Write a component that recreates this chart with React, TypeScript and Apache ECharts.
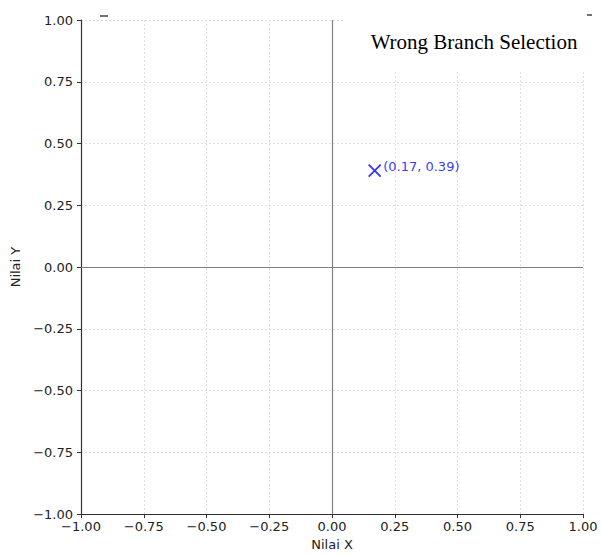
import React, { useEffect, useRef } from "react";
import * as echarts from "echarts";

const xTicks = [-1, -0.75, -0.5, -0.25, 0, 0.25, 0.5, 0.75, 1];
const yTicks = [-1, -0.75, -0.5, -0.25, 0, 0.25, 0.5, 0.75, 1];
const pointX = [0.17];
const pointY = [0.39];
const pointLabels = ["(0.17, 0.39)"];
const xAxisName = "Nilai X";
const yAxisName = "Nilai Y";
const overlayTitle = "Wrong Branch Selection";

const fmt = (v: number) => {
  const s = Math.abs(v).toFixed(2);
  return v < 0 ? "\u2212" + s : s;
};

export default function App() {
  const ref = useRef<HTMLDivElement>(null);
  useEffect(() => {
    if (!ref.current) return;
    const chart = echarts.init(ref.current, undefined, { renderer: "svg" });
    const font = "DejaVu Sans";
    chart.setOption({
      animation: false,
      backgroundColor: "#ffffff",
      grid: { left: 81, right: 19, top: 20, bottom: 32, containLabel: false },
      xAxis: {
        type: "value",
        min: xTicks[0],
        max: xTicks[xTicks.length - 1],
        interval: 0.25,
        name: xAxisName,
        nameLocation: "middle",
        nameGap: 29,
        nameTextStyle: { fontFamily: font, fontSize: 13, color: "#222", verticalAlign: "middle" },
        axisLine: { show: true, onZero: false, lineStyle: { color: "#333", width: 1.2 } },
        axisTick: { show: true, length: 4, lineStyle: { color: "#333", width: 1 } },
        axisLabel: { formatter: fmt, fontFamily: font, fontSize: 13, color: "#222", margin: 6 },
        splitLine: { show: true, lineStyle: { color: "#d8d8d8", type: [2, 2], width: 0.8 } },
      },
      yAxis: {
        type: "value",
        min: yTicks[0],
        max: yTicks[yTicks.length - 1],
        interval: 0.25,
        name: yAxisName,
        nameLocation: "middle",
        nameGap: 56,
        nameRotate: 90,
        nameTextStyle: { fontFamily: font, fontSize: 13, color: "#222" },
        axisLine: { show: true, onZero: false, lineStyle: { color: "#333", width: 1.2 } },
        axisTick: { show: true, length: 4, lineStyle: { color: "#333", width: 1 } },
        axisLabel: { formatter: fmt, fontFamily: font, fontSize: 13, color: "#222", margin: 8 },
        splitLine: { show: true, lineStyle: { color: "#d8d8d8", type: [2, 2], width: 0.8 } },
      },
      series: [
        {
          type: "scatter",
          data: pointX.map((x, i) => [x, pointY[i], pointLabels[i]]),
          symbol: "path://M0,0L10,10M10,0L0,10",
          symbolSize: 12,
          itemStyle: { color: "none", borderColor: "#0000ff", borderWidth: 1.8 },
          label: {
            show: true,
            position: "right",
            formatter: (p: any) => p.data[2],
            color: "#0000ff",
            fontFamily: font,
            fontSize: 13,
            offset: [-5, -4],
          },
          markLine: {
            silent: true,
            symbol: "none",
            label: { show: false },
            lineStyle: { color: "#808080", type: "solid", width: 1.2 },
            data: [{ xAxis: 0 }, { yAxis: 0 }],
          },
          z: 5,
        },
      ],
      graphic: [
        { type: "line", shape: { x1: 100, y1: 16, x2: 108, y2: 16 }, style: { stroke: "#444", lineWidth: 1.5 }, z: 10 },
        { type: "line", shape: { x1: 587, y1: 15, x2: 592, y2: 15 }, style: { stroke: "#444", lineWidth: 1.5 }, z: 30 },
        { type: "rect", shape: { x: 345, y: 0, width: 240, height: 70 }, style: { fill: "#ffffff" }, z: 20 },
        {
          type: "text",
          x: 474,
          y: 42,
          style: {
            text: overlayTitle,
            fontFamily: "Liberation Serif",
            fontSize: 21,
            fill: "#000",
            align: "center",
            verticalAlign: "middle",
          },
          z: 21,
        },
      ],
    });
    return () => chart.dispose();
  }, []);
  return (
    <div
      ref={ref}
      style={{ position: "fixed", left: 0, top: 0, width: 602, height: 556 }}
    />
  );
}
